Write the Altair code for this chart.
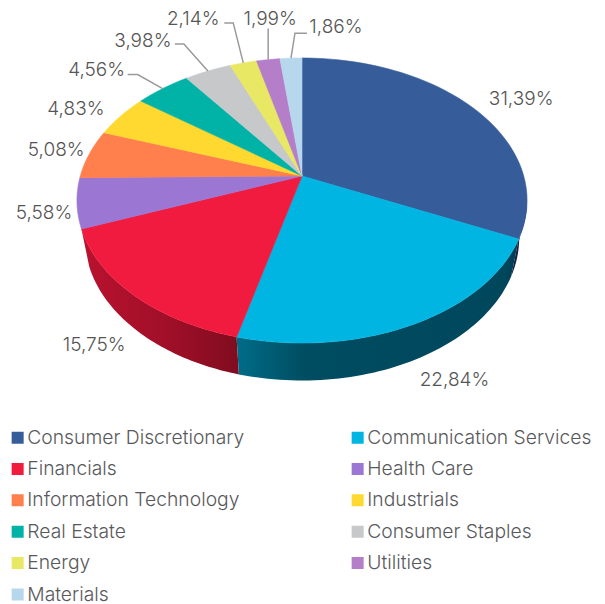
import math
import altair as alt
import pandas as pd

SECTORS = ["Consumer Discretionary", "Communication Services", "Financials", "Health Care",
           "Information Technology", "Industrials", "Real Estate", "Consumer Staples",
           "Energy", "Utilities", "Materials"]
VALUES = [31.39, 22.84, 15.75, 5.58, 5.08, 4.83, 4.56, 3.98, 2.14, 1.99, 1.86]
LABELS = ["31,39%", "22,84%", "15,75%", "5,58%", "5,08%", "4,83%", "4,56%", "3,98%", "2,14%", "1,99%", "1,86%"]
COLORS = ["#365c9a", "#00b5e2", "#f01b3f", "#9b77d3", "#ff7f4d", "#ffd92f",
          "#00b3a6", "#c6c8ca", "#e8e864", "#b57ec9", "#b7d7ec"]

# layout
APEX = (302.0, 176.0)
A, B, P = 221.7, 138.3, 0.172
DEPTH, BOTTOM_SCALE = 37.5, 0.965
BOUNDARY_SHIFT = [2, -1, -3, -2.7, -1, -1, -0.5, -0.5, 0, 0, 0]  # degrees, end of each slice
LABEL_OFFSET = [(48, -9), (40, 56), (-39, 50), (-33, 10), (-33, -4), (-45, -7),
                (-66, -19), (-65, -30), (-50, -44), (2, -41), (45, -31)]
LEADERS = {6: [(-25, -14), (-35, -14)], 7: [(-24, -27), (-33, -27)],
           8: [(-10, -40), (-19, -40)], 9: [(0, -31)], 10: [(4, -25), (16, -25)]}


def rim(deg, bottom=False):
    t = math.radians(deg)
    u, v = math.sin(t), math.cos(t)
    w = 1 + P * v
    x = A * u / w
    y = -B * v / w
    if bottom:
        return APEX[0] + x * BOTTOM_SCALE, APEX[1] + y + DEPTH
    return APEX[0] + x, APEX[1] + y


ends = []
total = 0.0
for v, s in zip(VALUES, BOUNDARY_SHIFT):
    total += v
    ends.append(total * 3.6 + s)
starts = [0.0] + ends[:-1]
ends[-1] = 360.0


def sweep(a, b, n=60):
    return [a + (b - a) * i / n for i in range(n + 1)]


rows = []
for name, a, b in zip(SECTORS, starts, ends):
    pts = [APEX] + [rim(d) for d in sweep(a, b)] + [APEX]
    for i, (x, y) in enumerate(pts):
        rows.append({"sector": name, "i": i, "x": x, "y": y})
top = pd.DataFrame(rows)

X = alt.X("x:Q", axis=None, scale=alt.Scale(domain=[8, 597], nice=False, zero=False))
Y = alt.Y("y:Q", axis=None, scale=alt.Scale(domain=[604, 8], nice=False, zero=False))


def side(a, b, stops):
    pts = [rim(d) for d in sweep(a, b)] + [rim(d, True) for d in sweep(b, a)]
    pts.append(pts[0])
    df = pd.DataFrame([{"x": x, "y": y, "i": i} for i, (x, y) in enumerate(pts)])
    grad = alt.LinearGradient(gradient="linear", x1=0, x2=1, y1=0, y2=0,
                              stops=[alt.GradientStop(offset=o, color=c) for o, c in stops])
    return alt.Chart(df).mark_line(fill=grad, strokeWidth=0, strokeOpacity=0).encode(X, Y, order="i:Q")


sides = [
    side(ends[1], ends[2], [(0, "#b9122f"), (0.55, "#a00f28"), (1, "#800c1f")]),
    side(ends[0], ends[1], [(0, "#006c88"), (0.25, "#004c60"), (0.95, "#00475c"), (1, "#003a50")]),
    side(101, ends[0], [(0, "#101c3a"), (1, "#1a2a50")]),
]

faces = alt.Chart(top).mark_line(strokeWidth=0.6).encode(
    X, Y,
    order="i:Q",
    detail="sector:N",
    stroke=alt.Stroke("sector:N", legend=None, scale=alt.Scale(domain=SECTORS, range=COLORS)),
    fill=alt.Fill("sector:N", scale=alt.Scale(domain=SECTORS, range=COLORS),
                  legend=alt.Legend(
                      title=None, orient="none", legendX=0, legendY=420.5,
                      columns=2, direction="horizontal", symbolType="square",
                      symbolSize=144, symbolStrokeWidth=0, symbolOpacity=1,
                      labelFont="Inter", labelFontSize=19.3, labelColor="#58595b",
                      labelFontWeight=300, labelLimit=320, labelOffset=0,
                      rowPadding=11.4, columnPadding=103, clipHeight=18)),
)

mids = [(a + b) / 2 for a, b in zip(starts, ends)]
label_rows = []
for m, lab, off in zip(mids, LABELS, LABEL_OFFSET):
    rx, ry = rim(m)
    label_rows.append({"x": rx + off[0], "y": ry + off[1], "label": lab})
labels = alt.Chart(pd.DataFrame(label_rows)).mark_text(
    font="Inter", fontSize=19, fontWeight=300, color="#555555",
    align="center", baseline="middle").encode(X, Y, text="label:N")

leader_rows = []
for idx, elbows in LEADERS.items():
    rx, ry = rim(mids[idx])
    pts = [(rx, ry)] + [(rx + dx, ry + dy) for dx, dy in elbows]
    for i, (x, y) in enumerate(pts):
        leader_rows.append({"x": x, "y": y, "i": i, "k": idx})
leaders = alt.Chart(pd.DataFrame(leader_rows)).mark_line(color="#9a9a9a", strokeWidth=1.5).encode(
    X, Y, order="i:Q", detail="k:N")

chart = alt.layer(*sides, faces, leaders, labels).properties(
    width=589, height=596, padding=0, background="white",
    autosize=alt.AutoSizeParams(type="none"),
).configure_view(strokeWidth=0)

chart.save("out.html", embed_options={"renderer": "svg", "actions": False})
